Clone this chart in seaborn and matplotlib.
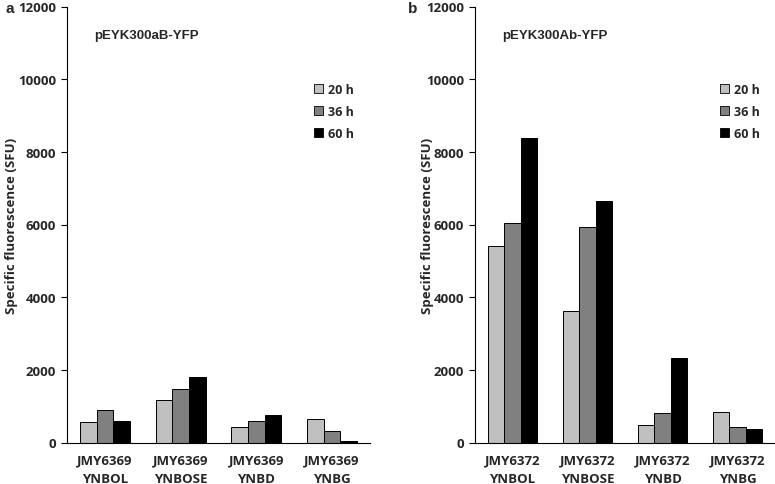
import matplotlib
matplotlib.use("Agg")
import matplotlib.pyplot as plt
import seaborn as sns
import pandas as pd

categories_a = ["JMY6369\nYNBOL", "JMY6369\nYNBOSE", "JMY6369\nYNBD", "JMY6369\nYNBG"]
categories_b = ["JMY6372\nYNBOL", "JMY6372\nYNBOSE", "JMY6372\nYNBD", "JMY6372\nYNBG"]
times = ["20 h", "36 h", "60 h"]
a_20h = [570, 1170, 440, 660]
a_36h = [890, 1470, 590, 310]
a_60h = [580, 1795, 765, 45]
b_20h = [5420, 3620, 487, 835]
b_36h = [6045, 5940, 825, 413]
b_60h = [8380, 6650, 2330, 358]
yticks = [0, 2000, 4000, 6000, 8000, 10000, 12000]
titles = ["pEYK300aB-YFP", "pEYK300Ab-YFP"]
panel_labels = ["a", "b"]
ylabel = "Specific fluorescence (SFU)"

colors = ["#c0c0c0", "#808080", "#000000"]

sns.set_style("white")
plt.rcParams["font.family"] = ["Liberation Sans", "DejaVu Sans"]
OPEN = ["Open Sans", "DejaVu Sans"]


def long_df(cats, s20, s36, s60):
    rows = []
    for t, vals in zip(times, [s20, s36, s60]):
        for c, v in zip(cats, vals):
            rows.append({"cat": c, "time": t, "val": v})
    return pd.DataFrame(rows)


W, H = 775, 485
fig = plt.figure(figsize=(W / 100, H / 100), dpi=100)
axes_px = [(67, 303), (475, 300)]
ylabel_px = [12, 427]
bottom_px = 443.5
top_px = 7.5

datasets = [
    (categories_a, a_20h, a_36h, a_60h),
    (categories_b, b_20h, b_36h, b_60h),
]

for i, ((left, width), data) in enumerate(zip(axes_px, datasets)):
    ax = fig.add_axes([left / W, (H - bottom_px) / H, width / W, (bottom_px - top_px) / H])
    df = long_df(*data)
    sns.barplot(data=df, x="cat", y="val", hue="time", palette=colors,
                order=data[0], hue_order=times, width=0.66,
                edgecolor="black", linewidth=0.7, ax=ax, legend=True)
    ax.set_xlim(-0.5, 3.5)
    ax.set_ylim(0, 12000)
    ax.set_yticks(yticks)
    ax.set_yticklabels([str(t) for t in yticks], fontsize=9.5, fontweight="bold",
                       family=OPEN)
    ax.set_xticklabels(data[0], fontsize=9.5, fontweight="bold",
                       family=OPEN, linespacing=1.5)
    ax.tick_params(axis="y", which="major", length=4, width=0.8, direction="out",
                   left=True, color="black", pad=4)
    ax.tick_params(axis="x", length=0, pad=8)
    sns.despine(ax=ax)
    for s in ["left", "bottom"]:
        ax.spines[s].set_color("black")
        ax.spines[s].set_linewidth(0.8)
    ax.set_xlabel("")
    ax.set_ylabel(ylabel, fontsize=9.5, fontweight="bold", family=OPEN)
    ax.yaxis.label.set_va("center")
    ax.yaxis.set_label_coords((ylabel_px[i] - left) / width, 0.5)
    ax.text(0.09, 0.935, titles[i], transform=ax.transAxes, fontsize=9.5,
            fontweight="bold", va="center", ha="left")
    leg = ax.legend(loc="upper left", bbox_to_anchor=(0.815, 0.825), frameon=False,
                    handlelength=0.75, handleheight=0.75, handletextpad=0.4,
                    labelspacing=0.72, borderpad=0, borderaxespad=0,
                    prop={"family": OPEN, "weight": "bold", "size": 9})
    for h in leg.legend_handles:
        h.set_edgecolor("black")
        h.set_linewidth(0.6)
    fig.text((5 if i == 0 else 408) / W, 1 - 9 / H, panel_labels[i], fontsize=11,
             fontweight="bold", ha="left", va="center")

fig.savefig("out.png", dpi=100)
